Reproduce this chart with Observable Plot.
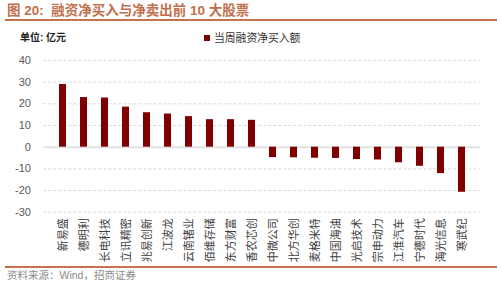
<!DOCTYPE html>
<html>
<head>
<meta charset="utf-8">
<script src="https://cdn.jsdelivr.net/npm/d3@7"></script>
<script src="https://cdn.jsdelivr.net/npm/@observablehq/plot@0.6"></script>
<style>
  html, body { margin: 0; padding: 0; background: #fff; }
  #wrap { position: relative; width: 502px; height: 285px; overflow: hidden; font-family: "Liberation Sans", "Noto Sans CJK SC", sans-serif; }
  #chart { position: absolute; left: 0; top: 0; }
  .abs { position: absolute; white-space: nowrap; }
  #title { left: 7px; top: 2px; font-size: 13.5px; font-weight: bold; color: #c0704c; line-height: 18px; }
  #rule1 { left: 5px; top: 19px; width: 492px; height: 1.5px; background: #c8714e; }
  #unit { left: 20px; top: 31px; font-size: 10px; font-weight: bold; color: #222; line-height: 14px; }
  #legend { left: 204px; top: 30px; font-size: 10.8px; color: #333; line-height: 16px; display: flex; align-items: center; }
  #legend .sw { width: 6px; height: 6px; background: #800000; margin-right: 4px; }
  #rule2 { left: 5px; top: 266px; width: 492px; height: 2px; background: #c8714e; }
  #source { left: 7px; top: 268px; font-size: 10.5px; color: #8a8a8a; line-height: 14px; }
</style>
</head>
<body>
<div id="wrap">
  <div id="chart"></div>
  <div class="abs" id="title">图 20:&nbsp; 融资净买入与净卖出前 10 大股票</div>
  <div class="abs" id="rule1"></div>
  <div class="abs" id="unit">单位: 亿元</div>
  <div class="abs" id="legend"><span class="sw"></span><span>当周融资净买入额</span></div>
  <div class="abs" id="rule2"></div>
  <div class="abs" id="source">资料来源：Wind，招商证券</div>
</div>
<script>
const categories = ["新易盛", "德明利", "长电科技", "立讯精密", "兆易创新", "江波龙", "云南锗业", "佰维存储", "东方财富", "香农芯创",
                    "中微公司", "北方华创", "麦格米特", "中国海油", "光启技术", "宗申动力", "江淮汽车", "宁德时代", "海光信息", "寒武纪"];
const values = [28.9, 22.9, 22.7, 18.5, 15.9, 15.3, 14.1, 12.7, 12.7, 12.4,
                -4.8, -4.9, -5.1, -5.2, -5.7, -5.9, -7.2, -8.8, -12.2, -20.8];
const yTicks = [-30, -20, -10, 0, 10, 20, 30, 40];
const gridTicks = [-30, -20, -10, 10, 20, 30, 40];
const seriesName = "当周融资净买入额";

const data = categories.map((c, i) => ({name: c, value: values[i]}));

const chart = Plot.plot({
  width: 502,
  height: 285,
  marginTop: 60,
  marginBottom: 73.3,
  marginLeft: 43.4,
  marginRight: 22.1,
  style: {fontFamily: "Liberation Sans, Noto Sans CJK SC, sans-serif", background: "transparent"},
  x: {domain: categories, padding: 0.69, label: null},
  y: {domain: [-30, 40], label: null},
  marks: [
    Plot.ruleY(gridTicks, {stroke: "#d9d9d9", strokeWidth: 1, strokeDasharray: "3,2"}),
    Plot.ruleY([0], {stroke: "#e3e3e3", strokeWidth: 2}),
    Plot.barY(data, {x: "name", y: "value", fill: "#800000"}),
    Plot.axisY({ticks: yTicks, tickSize: 0, tickPadding: 13, fontSize: 11, color: "#595959", label: null, tickFormat: d => String(d)}),
    Plot.axisX({tickSize: 0, tickPadding: 6, tickRotate: -90, fontSize: 11, color: "#404040", label: null, fontFamily: "Noto Sans CJK SC"})
  ]
});
document.getElementById("chart").appendChild(chart);
</script>
</body>
</html>
